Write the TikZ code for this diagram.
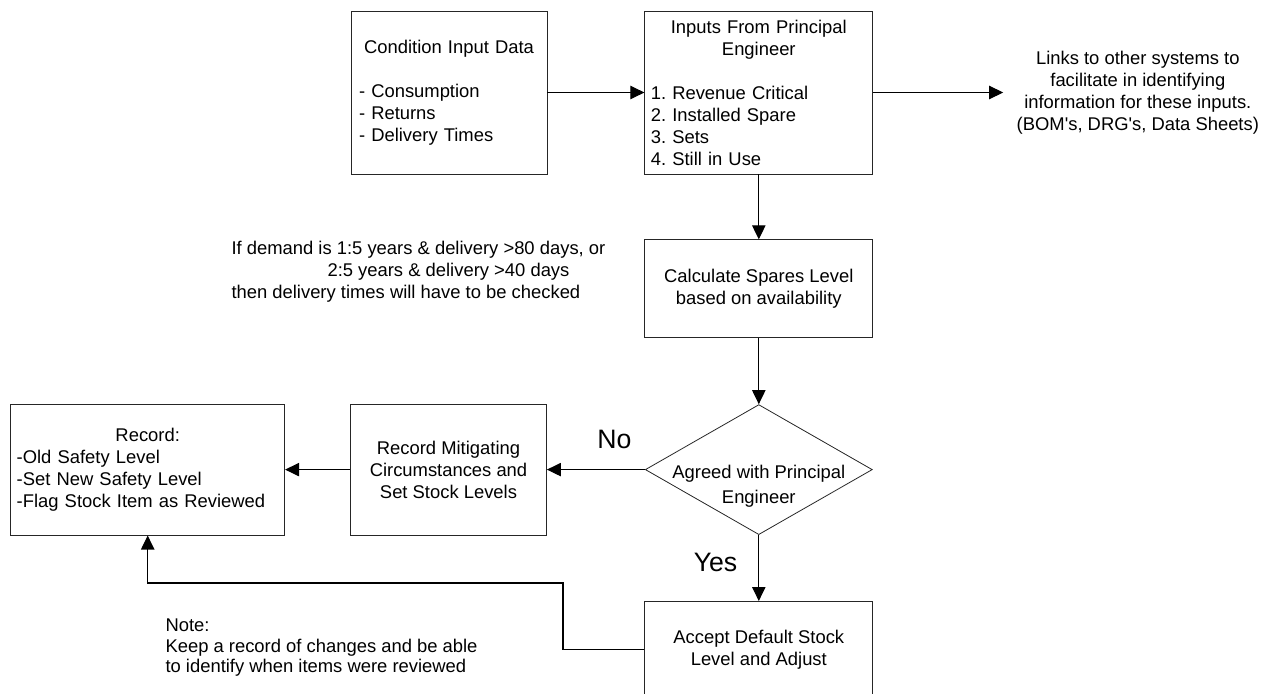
\documentclass[tikz,border=0pt]{standalone}
\usepackage{fontspec}
\setmainfont{Liberation Sans}
\frenchspacing
\usetikzlibrary{positioning,arrows.meta,shapes.geometric}
\tikzset{
  every node/.style={font=\fontsize{13.8}{16.5}\selectfont},
  box/.style={draw=black!85, line width=0.6pt, rectangle, inner sep=0pt},
  decision/.style={draw=black!85, line width=0.6pt, diamond, inner sep=0pt},
  answer/.style={font=\fontsize{20}{24}\selectfont, inner sep=0pt},
  remark/.style={inner sep=0pt, align=left},
}

\begin{document}
\begin{tikzpicture}[
  ->,>={Triangle[length=10.5pt,width=10pt]},
  line width=0.8pt,
  x=0.75pt, y=-0.75pt,
]
\useasboundingbox (0,0) rectangle (1274,693);
\clip (0,0) rectangle (1274,693);

\node[box, minimum width=147pt, minimum height=122.25pt, text width=135pt, align=left] (cond) at (449,92.5)
  {\centering Condition Input Data\par\raggedright\mbox{}\\- Consumption\\- Returns\\- Delivery Times};
\node[box, right=72.75pt of cond, minimum width=171pt, minimum height=122.25pt, text width=162pt, align=left] (pe)
  {\centering Inputs From Principal\\Engineer\par\raggedright\mbox{}\\1. Revenue Critical\\2. Installed Spare\\3. Sets\\4. Still in Use};
\node[right=97.5pt of pe, inner xsep=9.75pt, inner ysep=0pt, align=center] (links)
  {Links to other systems to\\facilitate in identifying\\information for these inputs.\\(BOM\textquotesingle s, DRG\textquotesingle s, Data Sheets)};
\node[box, below=48.75pt of pe, minimum width=171pt, minimum height=73.5pt, align=center] (calc)
  {Calculate Spares Level\\based on availability};
\node[decision, below=49.5pt of calc, minimum width=170.25pt, minimum height=97.5pt,
  label={[align=center, yshift=-12.75pt, font=\fontsize{13.8}{18.75}\selectfont]center:Agreed with Principal\\Engineer}] (agree) {};
\node[box, below=49.5pt of agree, minimum width=171pt, minimum height=72.75pt, align=center] (accept)
  {Accept Default Stock\\Level and Adjust};
\node[box, left=73.5pt of agree, minimum width=147pt, minimum height=98.25pt, align=center] (mitig)
  {Record Mitigating\\Circumstances and\\Set Stock Levels};
\node[box, left=48.75pt of mitig, minimum width=205.5pt, minimum height=98.25pt, text width=196.5pt, align=left] (record)
  {\centering Record:\par\raggedright -Old Safety Level\\-Set New Safety Level\\-Flag Stock Item as Reviewed};
\node[remark, anchor=west] (check) at (231,272)
  {If demand is 1:5 years \& delivery >80 days, or\\\hspace*{72pt}2:5 years \& delivery >40 days\\then delivery times will have to be checked};
\node[remark, anchor=west, font=\fontsize{13.8}{15.4}\selectfont] (note) at (165,648)
  {Note:\\Keep a record of changes and be able\\to identify when items were reviewed};
\coordinate (bend) at (563,583);

\path
(cond) edge (pe)
(pe.east) edge (pe.east -| links.west)
(pe) edge (calc)
(calc) edge (agree)
(agree) edge node[answer, above=15.4pt, pos=0.31] {No} (mitig)
(agree) edge node[answer, left=15.75pt, pos=0.41] {Yes} (accept)
(mitig) edge (record);
\draw (accept.west) -| (bend) -| (record.south);
\end{tikzpicture}
\end{document}
